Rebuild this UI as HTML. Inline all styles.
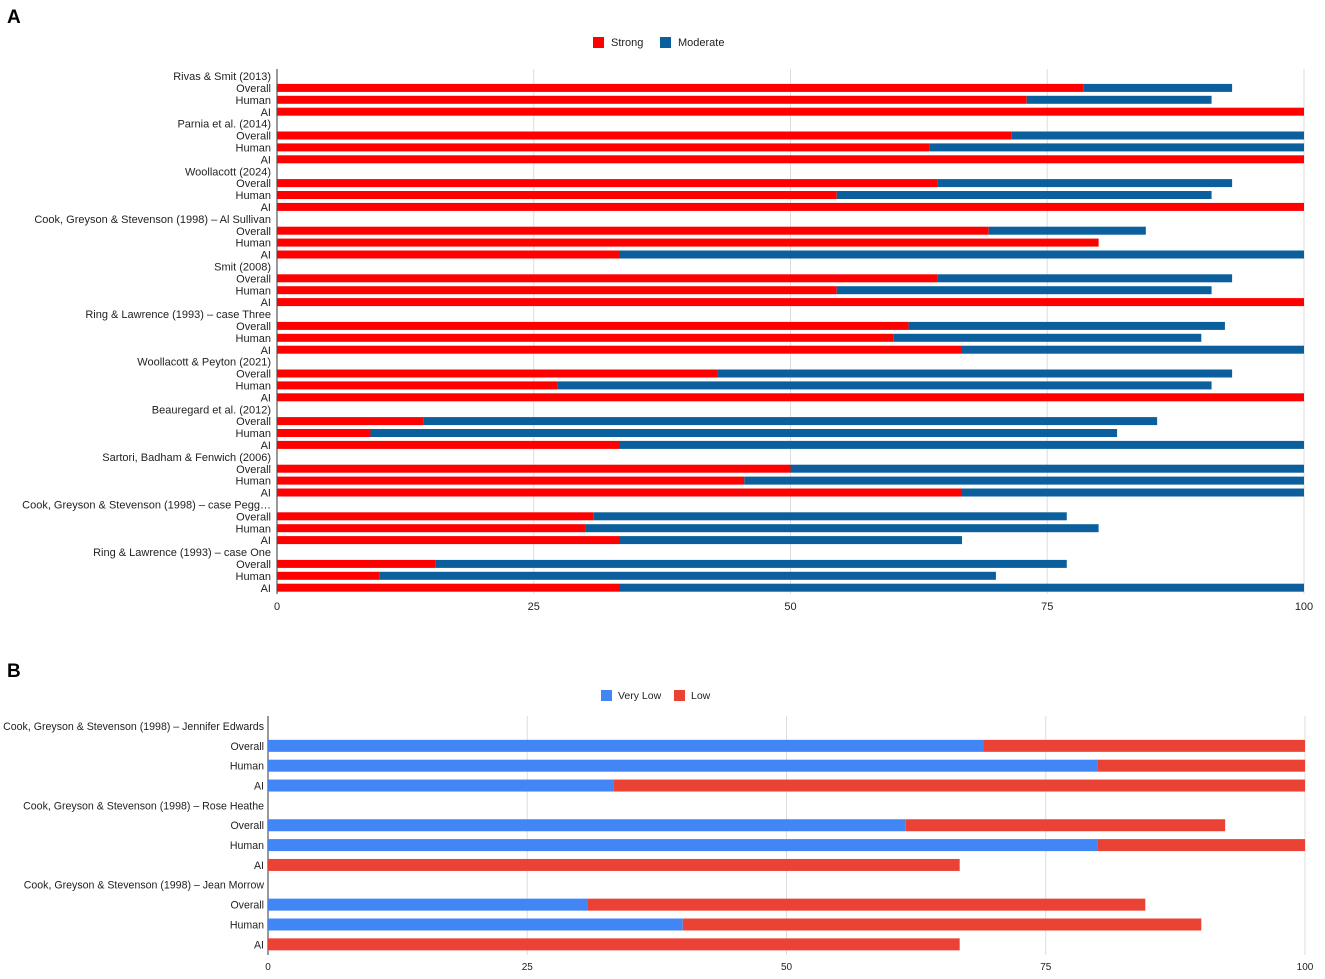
<!DOCTYPE html>
<html><head><meta charset="utf-8">
<style>
body{margin:0;background:#fff;font-family:"Liberation Sans",Arial,sans-serif;}
svg{display:block}
</style></head>
<body>
<svg id="chart" width="1325" height="979" viewBox="0 0 1325 979" font-family="Liberation Sans, Arial, sans-serif">
<rect width="1325" height="979" fill="#fff"/>
<text x="7" y="23" font-size="19" font-weight="bold">A</text>
<text x="7" y="677" font-size="19" font-weight="bold">B</text>
<g>
<rect x="593" y="37" width="11" height="11" fill="#ff0000"/>
<text x="611" y="46" font-size="11" fill="#222">Strong</text>
<rect x="660" y="37" width="11" height="11" fill="#0b5f9c"/>
<text x="678" y="46" font-size="11" fill="#222">Moderate</text>
</g>
<g>
<rect x="601" y="690" width="11" height="11" fill="#4285f4"/>
<text x="618" y="699" font-size="10.5" fill="#222">Very Low</text>
<rect x="674" y="690" width="11" height="11" fill="#ea4335"/>
<text x="691" y="699" font-size="10.5" fill="#222">Low</text>
</g>
<g id="ga"></g>
<g id="gb"></g>
</svg>
<script>
const groupsA = ["Rivas & Smit (2013)","Parnia et al. (2014)","Woollacott (2024)","Cook, Greyson & Stevenson (1998) – Al Sullivan","Smit (2008)","Ring & Lawrence (1993) – case Three","Woollacott & Peyton (2021)","Beauregard et al. (2012)","Sartori, Badham & Fenwich (2006)","Cook, Greyson & Stevenson (1998) – case Pegg…","Ring & Lawrence (1993) – case One"];
const subRows = ["Overall","Human","AI"];
const strongA = [[78.5,73,100],[71.5,63.5,100],[64.3,54.5,100],[69.3,80,33.3],[64.3,54.5,100],[61.5,60,66.7],[42.9,27.3,100],[14.3,9.1,33.3],[50,45.5,66.7],[30.8,30,33.3],[15.4,10,33.3]];
const moderateA = [[14.5,18,0],[28.5,36.5,0],[28.7,36.5,0],[15.3,0,66.7],[28.7,36.5,0],[30.8,30,33.3],[50.1,63.7,0],[71.4,72.7,66.7],[50,54.5,33.3],[46.1,50,33.4],[61.5,60,66.7]];
const ticksA = [0,25,50,75,100];
const groupsB = ["Cook, Greyson & Stevenson (1998) – Jennifer Edwards","Cook, Greyson & Stevenson (1998) – Rose Heathe","Cook, Greyson & Stevenson (1998) – Jean Morrow"];
const veryLowB = [[69,80,33.3],[61.5,80,0],[30.8,40,0]];
const lowB = [[31,20,66.7],[30.8,20,66.7],[53.8,50,66.7]];
const ticksB = [0,25,50,75,100];
const NS="http://www.w3.org/2000/svg";
function mk(p,t,a){const e=document.createElementNS(NS,t);for(const k in a)e.setAttribute(k,a[k]);p.appendChild(e);return e;}
function draw(g,cfg){
  const xs=v=>cfg.x0+(cfg.x1-cfg.x0)*v/100;
  const ys=i=>cfg.y0+i*cfg.step;
  cfg.ticks.forEach(t=>{
    const l=mk(g,'line',{x1:xs(t),x2:xs(t),y1:cfg.top,y2:cfg.bottom,stroke:t===0?'#333':'#ddd','stroke-width':1});
    
    
    const tx=mk(g,'text',{x:xs(t),y:cfg.tickY,'font-size':cfg.tfs,'text-anchor':'middle',fill:'#222'});
    tx.textContent=t;
    
    
  });
  let r=0;
  cfg.groups.forEach((gn,gi)=>{
    const h=mk(g,'text',{x:cfg.lx,y:ys(r)+cfg.fs*0.37,'font-size':cfg.fs,'text-anchor':'end',fill:'#222'});
    h.textContent=gn;
    
    
    r++;
    subRows.forEach((sn,si)=>{
      const y=ys(r);
      const lb=mk(g,'text',{x:cfg.lx,y:y+cfg.fs*0.37,'font-size':cfg.fs,'text-anchor':'end',fill:'#222'});
      lb.textContent=sn;
      
      
      const a=cfg.s1[gi][si],b=cfg.s2[gi][si];
      if(a>0){const e=mk(g,'rect',{x:xs(0),y:y-cfg.bh/2,width:xs(a)-xs(0),height:cfg.bh,fill:cfg.c1});
        
        }
      if(b>0){const e=mk(g,'rect',{x:xs(a),y:y-cfg.bh/2,width:xs(a+b)-xs(a),height:cfg.bh,fill:cfg.c2});
        
        }
      r++;
    });
  });
}
draw(document.getElementById('ga'),{x0:277,x1:1304,y0:76,step:11.9,top:69,bottom:594,tickY:610,fs:11,tfs:11,lx:271,bh:8,groups:groupsA,s1:strongA,s2:moderateA,c1:'#ff0000',c2:'#0b5f9c',n1:'strong',n2:'moderate',ticks:ticksA});
draw(document.getElementById('gb'),{x0:268,x1:1305,y0:726,step:19.85,top:716,bottom:955,tickY:970,fs:10.6,tfs:10,lx:264,bh:12,groups:groupsB,s1:veryLowB,s2:lowB,c1:'#4285f4',c2:'#ea4335',n1:'very-low',n2:'low',ticks:ticksB});
</script>
</body></html>
